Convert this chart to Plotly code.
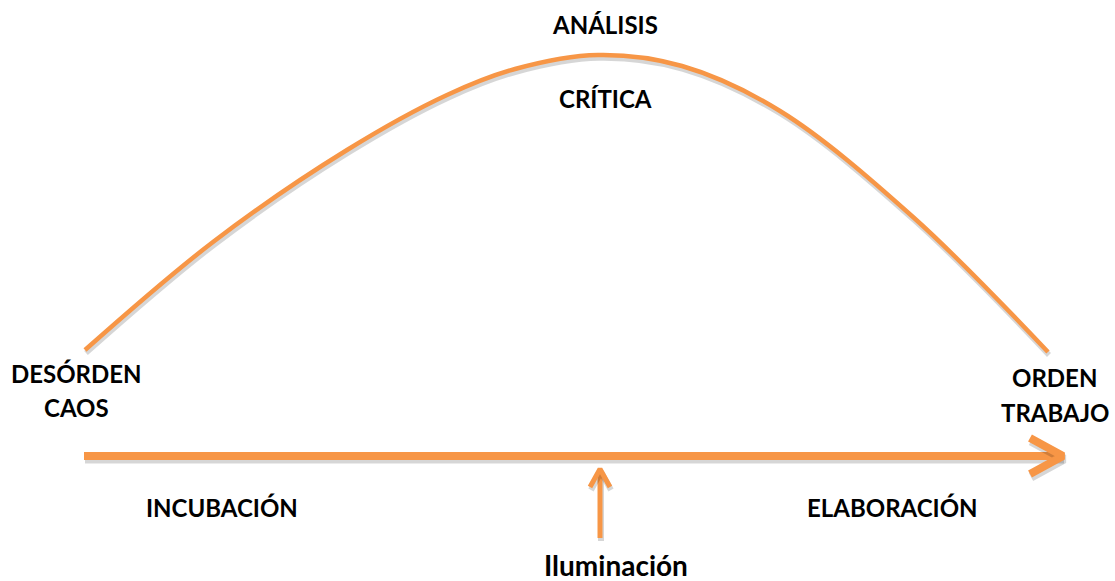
import plotly.graph_objects as go

ORANGE = "#F79646"
SHADOW = "rgba(0,0,0,0.16)"

# Arc (pixel-space points)
curve_x = [85, 213, 347, 447, 515, 598, 682, 780, 913, 1048]
curve_y = [350, 242, 150, 95, 69, 55, 66, 111, 217, 352]

# Main horizontal arrow
main_x = [84, 1063]
main_y = [456, 456]
main_head_x = [1030, 1063, 1030]
main_head_y = [438, 456, 474]

# Small vertical arrow
small_x = [600, 600]
small_y = [538, 470]
small_head_x = [590, 600, 610]
small_head_y = [487, 469, 487]

labels = ["ANÁLISIS", "CRÍTICA", "DESÓRDEN", "CAOS", "ORDEN", "TRABAJO",
          "INCUBACIÓN", "ELABORACIÓN", "Iluminación"]
label_x = [605, 605, 76, 76, 1054, 1055, 222, 892, 616]
label_y = [24, 98, 373, 407, 377, 412, 507, 507, 565]
label_size = [24, 24, 24, 24, 24, 24, 24, 24, 28]

fig = go.Figure()

def add_line(xs, ys, width, smooth=False):
    shape = "spline" if smooth else "linear"
    fig.add_trace(go.Scatter(x=[v + 1 for v in xs], y=[v + 3 for v in ys], mode="lines",
                             line=dict(color=SHADOW, width=width + 1, shape=shape, smoothing=1.0),
                             hoverinfo="skip", showlegend=False))
    fig.add_trace(go.Scatter(x=xs, y=ys, mode="lines",
                             line=dict(color=ORANGE, width=width, shape=shape, smoothing=1.0),
                             hoverinfo="skip", showlegend=False))

add_line(curve_x, curve_y, 4.5, smooth=True)
add_line(main_x, main_y, 8)
add_line(main_head_x, main_head_y, 8)
add_line(small_x, small_y, 5)
add_line(small_head_x, small_head_y, 5)

for t, x, y, s in zip(labels, label_x, label_y, label_size):
    fig.add_annotation(x=x, y=y, text=f"<b>{t}</b>", showarrow=False,
                       font=dict(family="Lato, Open Sans, sans-serif", size=s, color="#000000"),
                       xanchor="center", yanchor="middle")

fig.update_layout(
    width=1115, height=581,
    margin=dict(l=0, r=0, t=0, b=0),
    paper_bgcolor="white", plot_bgcolor="white",
    xaxis=dict(range=[0, 1115], visible=False, fixedrange=True),
    yaxis=dict(range=[581, 0], visible=False, fixedrange=True),
)

fig.write_html("out.html", config={"displayModeBar": False},
               post_script="document.body.style.margin='0';")
